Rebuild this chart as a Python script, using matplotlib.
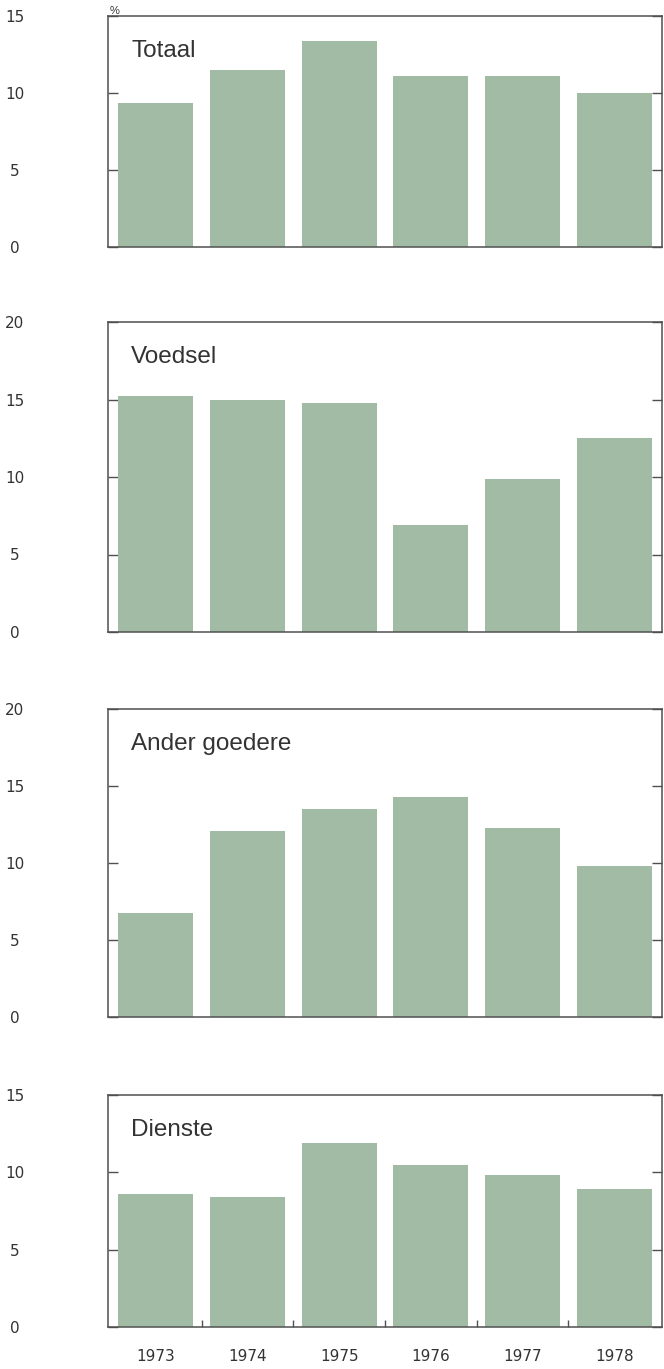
import matplotlib
matplotlib.use("Agg")
import matplotlib.pyplot as plt
import matplotlib.transforms as mtransforms
import numpy as np

years = ["1973", "1974", "1975", "1976", "1977", "1978"]
titles = ["Totaal", "Voedsel", "Ander goedere", "Dienste"]
totaal = [9.35, 11.5, 13.4, 11.1, 11.1, 10.0]
voedsel = [15.2, 15.0, 14.8, 6.9, 9.9, 12.5]
ander_goedere = [6.75, 12.1, 13.5, 14.3, 12.3, 9.8]
dienste = [8.6, 8.4, 11.9, 10.45, 9.8, 8.9]
series = [totaal, voedsel, ander_goedere, dienste]
ymaxes = [15, 20, 20, 15]
yticks_list = [[0, 5, 10, 15], [0, 5, 10, 15, 20], [0, 5, 10, 15, 20], [0, 5, 10, 15]]

bar_color = "#a2bba4"
frame_color = "#505050"
num_font = ["Liberation Sans Narrow", "DejaVu Sans"]
title_font = ["Liberation Sans", "DejaVu Sans"]

W, H = 664, 1369
fig = plt.figure(figsize=(W / 100, H / 100), dpi=100)

# (top, bottom) pixel positions of each panel
panels_px = [(16, 247), (322, 632), (709, 1017), (1095, 1327)]
left_px, right_px = 108, 662

x = np.arange(len(years))
for i, (top, bot) in enumerate(panels_px):
    ax = fig.add_axes([left_px / W, 1 - bot / H, (right_px - left_px) / W, (bot - top) / H])
    ax.bar(x, series[i], width=0.82, color=bar_color, edgecolor="none", zorder=2)
    ax.set_xlim(-0.52, 5.52)
    ax.set_ylim(0, ymaxes[i])
    for s in ax.spines.values():
        s.set_color(frame_color)
        s.set_linewidth(1.1)
    ax.set_yticks(yticks_list[i])
    ax.set_yticklabels([str(v) for v in yticks_list[i]], fontfamily=num_font,
                       fontsize=11, color="#333333", ha="center")
    ax.tick_params(axis="y", direction="in", length=7, width=1.0, color=frame_color,
                   right=True, left=True, pad=67)
    ax.set_xticks(x)
    if i == 3:
        ax.set_xticks(np.arange(0.5, 5.5, 1.0), minor=True)
        ax.tick_params(axis="x", which="minor", direction="in", length=5, width=1.0,
                       color=frame_color, bottom=True, top=False)
        ax.set_xticklabels(years, fontfamily=num_font, fontsize=11, color="#333333")
        ax.tick_params(axis="x", which="major", length=0, pad=16)
    else:
        ax.set_xticklabels([])
        ax.tick_params(axis="x", which="both", length=0)
    tr = ax.transAxes + mtransforms.ScaledTranslation(23 / 100, -41 / 100, fig.dpi_scale_trans)
    ax.text(0, 1, titles[i], transform=tr, fontfamily=title_font, fontsize=17.5,
            color="#333333", ha="left", va="baseline", zorder=3)
    if i == 0:
        tr2 = ax.transAxes + mtransforms.ScaledTranslation(2 / 100, 0, fig.dpi_scale_trans)
        ax.text(0, 1, "%", transform=tr2, fontfamily=title_font, fontsize=8,
                color="#333333", ha="left", va="bottom")

fig.savefig("out.png", dpi=100)
